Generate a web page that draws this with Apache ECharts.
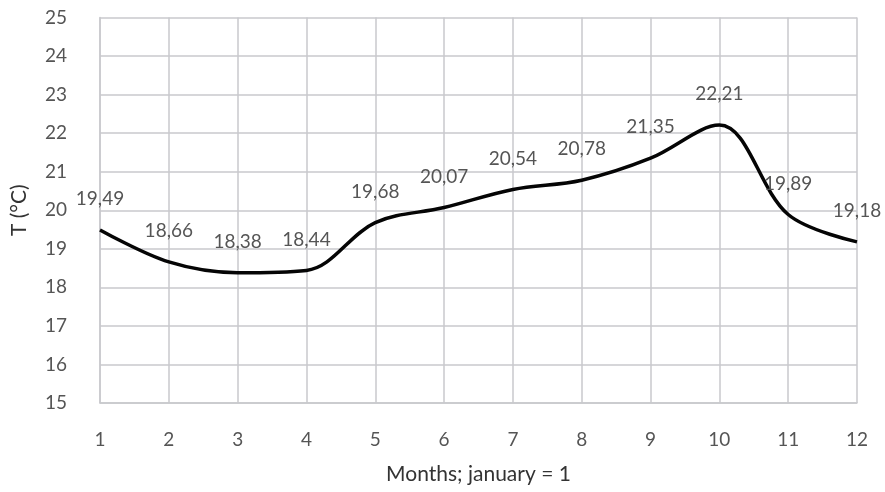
<!DOCTYPE html>
<html>
<head>
<meta charset="utf-8">
<script src="https://cdn.jsdelivr.net/npm/echarts@6/dist/echarts.min.js"></script>
<style>
  html, body { margin: 0; padding: 0; background: #ffffff; }
  #chart { width: 885px; height: 492px; }
</style>
</head>
<body>
<div id="chart"></div>
<script>
// Monthly mean temperature, months numbered from January = 1
const months = [1, 2, 3, 4, 5, 6, 7, 8, 9, 10, 11, 12];
const temperatures = [19.49, 18.66, 18.38, 18.44, 19.68, 20.07, 20.54, 20.78, 21.35, 22.21, 19.89, 19.18];
const yTicks = { min: 15, max: 25, interval: 1 };

const labelFont = 'Lato, sans-serif';
const gridColor = '#c8c9cc';
const textGray = '#555555';

const chart = echarts.init(document.getElementById('chart'), null, { renderer: 'canvas' });

chart.setOption({
  animation: false,
  backgroundColor: '#ffffff',
  grid: {
    left: 100, right: 28, top: 17.5, bottom: 89,
    containLabel: false,
    outerBoundsMode: 'none'
  },
  xAxis: {
    type: 'value',
    min: 1,
    max: 12,
    interval: 1,
    name: 'Months; january = 1',
    nameLocation: 'middle',
    nameGap: 61,
    nameTextStyle: { fontFamily: 'Lato, sans-serif', fontSize: 21, color: '#333333' },
    axisLine: { show: true, lineStyle: { color: gridColor, width: 1.5 } },
    axisTick: { show: false },
    axisLabel: { margin: 27, fontFamily: labelFont, fontSize: 19, color: textGray },
    splitLine: { show: true, lineStyle: { color: gridColor, width: 1.5 } }
  },
  yAxis: {
    type: 'value',
    min: yTicks.min,
    max: yTicks.max,
    interval: yTicks.interval,
    name: 'T (°C)',
    nameLocation: 'middle',
    nameGap: 70,
    nameRotate: 90,
    nameTextStyle: { fontFamily: 'Lato, sans-serif', fontSize: 21, color: '#333333' },
    axisLine: { show: true, lineStyle: { color: gridColor, width: 1.5 } },
    axisTick: { show: false },
    axisLabel: { margin: 33, fontFamily: labelFont, fontSize: 19, color: textGray },
    splitLine: { show: true, lineStyle: { color: gridColor, width: 1.5 } }
  },
  series: [{
    type: 'line',
    data: months.map((m, i) => [m, temperatures[i]]),
    smooth: 0.35,
    symbol: 'circle',
    symbolSize: 1,
    showSymbol: true,
    itemStyle: { color: 'rgba(0,0,0,0)' },
    lineStyle: { color: '#050505', width: 3.5 },
    label: {
      show: true,
      position: 'top',
      distance: 21,
      fontFamily: labelFont,
      fontSize: 19,
      color: textGray,
      formatter: p => p.value[1].toFixed(2).replace('.', ',')
    },
    labelLayout: { hideOverlap: false },
    z: 3
  }]
});
</script>
</body>
</html>
